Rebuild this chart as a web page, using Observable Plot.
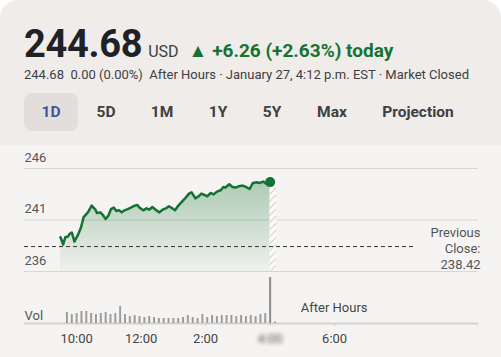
<!DOCTYPE html>
<html>
<head>
<meta charset="utf-8">
<script src="https://cdn.jsdelivr.net/npm/d3@7"></script>
<script src="https://cdn.jsdelivr.net/npm/@observablehq/plot@0.6"></script>
<style>
  html, body { margin: 0; padding: 0; background: #ffffff; }
  body { width: 501px; height: 357px; overflow: hidden; font-family: Roboto, "Noto Sans", sans-serif; }
  #card { position: relative; width: 501px; height: 357px; background: #efecea; border-radius: 18px 18px 0 0; overflow: hidden; }
  #chartbg { position: absolute; left: 0; top: 145px; width: 501px; height: 212px; background: #f6f4f2; }
  .abs { position: absolute; white-space: nowrap; }
  #row1 { left: 24px; top: 22px; display: flex; align-items: baseline; }
  #big { font-size: 38px; font-weight: 700; color: #202124; line-height: 44px; letter-spacing: -0.3px; }
  #usd { font-size: 16px; color: #3c4043; margin-left: 6px; }
  #chg { font-size: 19px; font-weight: 700; color: #137333; margin-left: 10px; }
  #row2 { left: 24px; top: 67px; font-size: 13px; color: #3c4043; line-height: 16px; }
  #pill { left: 24px; top: 93px; width: 54px; height: 38px; background: #e1dedb; border-radius: 8px; }
  .tab { top: 103px; font-size: 15.5px; font-weight: 700; color: #3c4043; line-height: 18px; transform: translateX(-50%); }
  .tab.sel { color: #4153a3; }
  #price { position: absolute; left: 0; top: 145px; }
  #vol { position: absolute; left: 0; top: 275px; }
</style>
</head>
<body>
<div id="card">
  <div id="chartbg"></div>
  <div id="row1" class="abs"><span id="big"></span><span id="usd"></span><span id="chg"></span></div>
  <div id="row2" class="abs"></div>
  <div id="pill" class="abs"></div>
  <div id="tabs"></div>
  <div id="price"></div>
  <div id="vol"></div>
</div>
<script>
// ---- header data ----
const lastPrice = 244.68;
const currency = "USD";
const changeText = "▲ +6.26 (+2.63%) today";
const subText = "244.68\u00a0\u00a00.00 (0.00%)\u00a0\u00a0After Hours · January 27, 4:12 p.m. EST · Market Closed";
const tabLabels = ["1D", "5D", "1M", "1Y", "5Y", "Max", "Projection"];
const tabCenters = [51, 106, 162, 218, 272, 332, 418];

// ---- price series (intraday, 24h clock) ----
const times = ["9:30","9:35","9:39","9:44","9:47","9:51","9:56","10:02","10:08","10:13","10:21","10:28","10:35","10:38","10:44","10:49","10:54","10:59","11:04","11:09","11:14","11:19","11:24","11:29","11:35","11:41","11:48","11:53","11:57","12:04","12:10","12:15","12:21","12:27","12:34","12:40","12:46","12:52","12:58","13:03","13:10","13:17","13:23","13:29","13:34","13:41","13:47","13:52","13:58","14:03","14:09","14:15","14:21","14:28","14:33","14:37","14:44","14:50","14:56","15:02","15:09","15:15","15:22","15:28","15:35","15:41","15:47","15:52","16:00"];
const prices = [239.33,238.62,239.33,239.40,239.66,239.79,238.91,239.50,240.25,241.28,241.74,242.39,242.00,241.67,241.74,241.48,241.09,241.42,242.06,242.20,241.87,241.94,241.74,241.94,242.06,242.20,242.39,242.45,242.20,241.94,242.13,242.00,242.26,242.00,241.74,242.00,242.13,242.33,242.13,241.94,242.45,242.84,243.17,243.56,243.69,243.10,243.30,243.56,243.43,243.30,243.62,243.49,243.76,243.89,244.21,244.15,244.47,244.21,244.15,244.28,244.34,244.21,244.01,244.60,244.67,244.60,244.73,244.54,244.68];
const prevClose = 238.42;
const afterHoursTimes = ["16:00", "16:12"];

// ---- volume series (millions) ----
const volTimes = ["9:42","9:51","10:00","10:09","10:18","10:27","10:36","10:45","10:54","11:03","11:12","11:21","11:30","11:39","11:48","11:57","12:06","12:15","12:24","12:33","12:42","12:51","13:00","13:09","13:18","13:27","13:36","13:45","13:54","14:03","14:12","14:21","14:30","14:39","14:48","14:57","15:06","15:15","15:24","15:33","15:42","15:51","16:00","16:09"];
const volumes = [1.1,0.9,1.0,1.2,1.2,1.0,0.9,1.0,1.1,0.9,1.0,1.7,0.9,0.7,0.8,0.7,0.6,0.7,0.6,0.5,0.5,0.5,0.5,0.5,0.6,0.8,0.6,0.5,0.9,0.6,0.8,0.7,0.8,0.8,0.8,0.7,0.8,0.7,0.8,0.7,0.9,1.0,4.6,0.15];

// ---- axis ticks ----
const priceTicks = [236, 241, 246];
const timeTicks = ["10:00", "12:00", "14:00", "16:00", "18:00"];
const afterHoursLabel = {time: "16:57", text: "After Hours"};

// ---- header ----
document.getElementById("big").textContent = lastPrice.toFixed(2);
document.getElementById("usd").textContent = currency;
document.getElementById("chg").textContent = changeText;
document.getElementById("row2").textContent = subText;
const tabsDiv = document.getElementById("tabs");
tabLabels.forEach((t, i) => {
  const d = document.createElement("div");
  d.className = "abs tab" + (i === 0 ? " sel" : "");
  d.style.left = tabCenters[i] + "px";
  d.textContent = t;
  tabsDiv.appendChild(d);
});

// ---- helpers ----
const parseT = s => { const [h, m] = s.split(":").map(Number); return h + m / 60; };
const fmtT = h => { const hh = Math.floor(h); const mm = Math.round((h - hh) * 60); return ((hh > 12 ? hh - 12 : hh) + ":" + String(mm).padStart(2, "0")); };

const priceData = times.map((t, i) => ({t: parseT(t), p: prices[i]}));
const last = priceData[priceData.length - 1];
const ahRect = [{x1: parseT(afterHoursTimes[0]), x2: parseT(afterHoursTimes[1]), p: last.p}];
const volData = volTimes.map((t, i) => ({t: parseT(t), v: volumes[i]}));
const xDomain = [8.384, 22.461];
const font = "Roboto, 'Noto Sans', sans-serif";

const pricePlot = Plot.plot({
  width: 501, height: 130,
  marginLeft: 24, marginRight: 23, marginTop: 23, marginBottom: 4,
  x: {domain: xDomain, axis: null},
  y: {domain: [236, 246], axis: null},
  style: {background: "transparent", fontFamily: font, fontSize: "13px", overflow: "visible"},
  marks: [
    Plot.ruleY(priceTicks, {stroke: "#d8d5d2", strokeWidth: 1}),
    Plot.axisY(priceTicks, {anchor: "left", label: null, tickSize: 0, tickPadding: 0, textAnchor: "start", dy: -11, fill: "#555", fontSize: 13}),
    Plot.areaY(priceData, {x: "t", y1: 236, y2: "p", fill: "url(#pgrad)"}),
    Plot.rect(ahRect, {x1: "x1", x2: "x2", y1: 236, y2: "p", fill: "url(#hatch)"}),
    Plot.ruleY([prevClose], {x1: xDomain[0], x2: 20.5, stroke: "#333", strokeWidth: 1, strokeDasharray: "4,3"}),
    Plot.line(priceData, {x: "t", y: "p", stroke: "#137333", strokeWidth: 2.5, strokeLinejoin: "round"}),
    Plot.dot([last], {x: "t", y: "p", r: 5, fill: "#137333"}),
    Plot.text([prevClose], {x: xDomain[1], y: d => d, text: d => `Previous\nClose:\n${d.toFixed(2)}`, textAnchor: "end", dx: 2, dy: 1, lineHeight: 1.25, fill: "#555", fontSize: 13})
  ]
});
pricePlot.insertAdjacentHTML("afterbegin", `<defs>
  <linearGradient id="pgrad" x1="0" y1="0" x2="0" y2="1">
    <stop offset="0" stop-color="#137333" stop-opacity="0.32"/>
    <stop offset="1" stop-color="#137333" stop-opacity="0.03"/>
  </linearGradient>
  <pattern id="hatch" width="5" height="5" patternUnits="userSpaceOnUse" patternTransform="rotate(45)">
    <rect width="5" height="5" fill="#fbfaf9"/>
    <line x1="0" y1="0" x2="0" y2="5" stroke="#c6c6c6" stroke-width="1.6"/>
  </pattern>
</defs>`);
document.getElementById("price").appendChild(pricePlot);

const volPlot = Plot.plot({
  width: 501, height: 82,
  marginLeft: 24, marginRight: 23, marginTop: 0, marginBottom: 34,
  x: {domain: xDomain, axis: null},
  y: {domain: [0, 4.8], axis: null},
  style: {background: "transparent", fontFamily: font, fontSize: "13px", overflow: "visible"},
  marks: [
    Plot.ruleY([0], {stroke: "#d3d1ce", strokeWidth: 2}),
    Plot.ruleX(volData, {x: "t", y1: 0, y2: "v", stroke: d => d.v > 3 ? "#8c8c8c" : "#9d9d9d", strokeWidth: 2}),
    Plot.axisX(timeTicks.map(parseT), {anchor: "bottom", label: null, tickSize: 3, tickPadding: 7, tickFormat: fmtT, stroke: "#d0d0d0", fill: "#444", fontSize: 13}),
    Plot.text(["Vol"], {frameAnchor: "bottom-left", textAnchor: "start", dy: -4, fill: "#555", fontSize: 13}),
    Plot.text([afterHoursLabel], {x: d => parseT(d.time), frameAnchor: "bottom", text: "text", textAnchor: "start", dy: -12, fill: "#444", fontSize: 13})
  ]
});
volPlot.querySelectorAll("text").forEach(t => {
  if (t.textContent === "4:00") { t.style.filter = "blur(2px)"; t.setAttribute("fill", "#555"); }
});
document.getElementById("vol").appendChild(volPlot);
</script>
</body>
</html>
